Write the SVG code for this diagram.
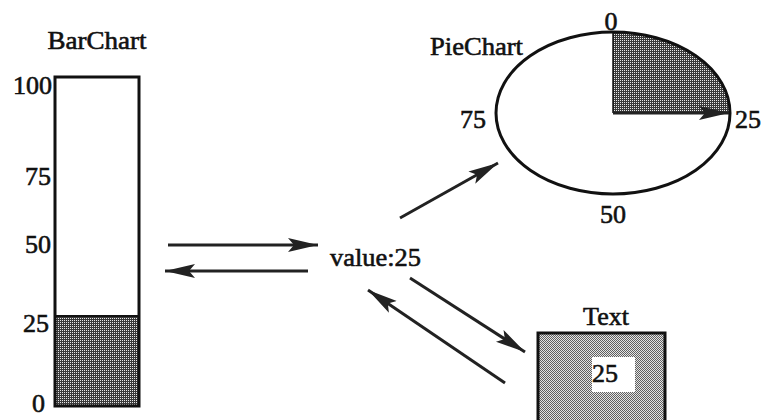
<svg xmlns="http://www.w3.org/2000/svg" width="765" height="420" viewBox="0 0 765 420">
<defs>
<style>
text{font-family:"Liberation Serif","Times New Roman",serif;font-size:26px;fill:#111;stroke:#111;stroke-width:0.6}
.outline{fill:none;stroke:#111;stroke-width:3}
.conn{stroke:#222;stroke-width:3;fill:none;marker-end:url(#ah)}
</style>
<pattern id="dark" width="2" height="2" patternUnits="userSpaceOnUse">
<rect width="2" height="2" fill="#3a3a3a"/><rect width="1" height="1" fill="#e8e8e8"/>
</pattern>
<pattern id="light" width="2" height="2" patternUnits="userSpaceOnUse">
<rect width="2" height="2" fill="#e4e4e4"/><rect width="1" height="1" fill="#606060"/><rect x="1" y="1" width="1" height="1" fill="#606060"/>
</pattern>
<marker id="ah" markerUnits="userSpaceOnUse" markerWidth="32" markerHeight="16" refX="30" refY="8" orient="auto">
<path d="M0,1 L30,8 L0,15 L6,8 z" fill="#222"/>
</marker>
</defs>
<rect width="765" height="420" fill="#fff"/>
<g id="barchart">
<text x="97" y="49" text-anchor="middle" textLength="99" lengthAdjust="spacingAndGlyphs">BarChart</text>
<rect x="55" y="316" width="84" height="90" fill="url(#dark)"/>
<rect x="55" y="77" width="84" height="329" class="outline"/>
<line x1="55" y1="316" x2="139" y2="316" stroke="#111" stroke-width="2"/>
<text x="52" y="94" text-anchor="end">100</text>
<text x="51" y="185" text-anchor="end">75</text>
<text x="51" y="253" text-anchor="end">50</text>
<text x="49" y="332" text-anchor="end">25</text>
<text x="45" y="412" text-anchor="end">0</text>
</g>
<g id="piechart">
<text x="430" y="55" textLength="93" lengthAdjust="spacingAndGlyphs">PieChart</text>
<path d="M613,113 L613,32 A117,81 0 0 1 730,113 z" fill="url(#dark)"/>
<ellipse cx="613" cy="113" rx="117" ry="81" class="outline"/>
<line x1="613" y1="32" x2="613" y2="113" stroke="#111" stroke-width="1.5"/>
<line x1="613" y1="113" x2="729" y2="113" class="conn"/>
<text x="611" y="30" text-anchor="middle">0</text>
<text x="460" y="128">75</text>
<text x="735" y="128">25</text>
<text x="600" y="223">50</text>
</g>
<g id="value">
<text x="330" y="266" textLength="91" lengthAdjust="spacingAndGlyphs">value:25</text>
</g>
<g id="textbox">
<text x="606" y="325" text-anchor="middle">Text</text>
<rect x="538" y="333" width="127" height="90" fill="url(#light)" stroke="#111" stroke-width="3"/>
<rect x="592" y="357" width="43" height="35" fill="#fff"/>
<text x="592" y="382">25</text>
</g>
<g id="connectors">
<line x1="168" y1="245" x2="318" y2="245" class="conn"/>
<line x1="308" y1="271" x2="165" y2="271" class="conn"/>
<line x1="400" y1="218" x2="498" y2="163" class="conn"/>
<line x1="410" y1="278" x2="525" y2="352" class="conn"/>
<line x1="505" y1="383" x2="368" y2="290" class="conn"/>
</g>
</svg>
